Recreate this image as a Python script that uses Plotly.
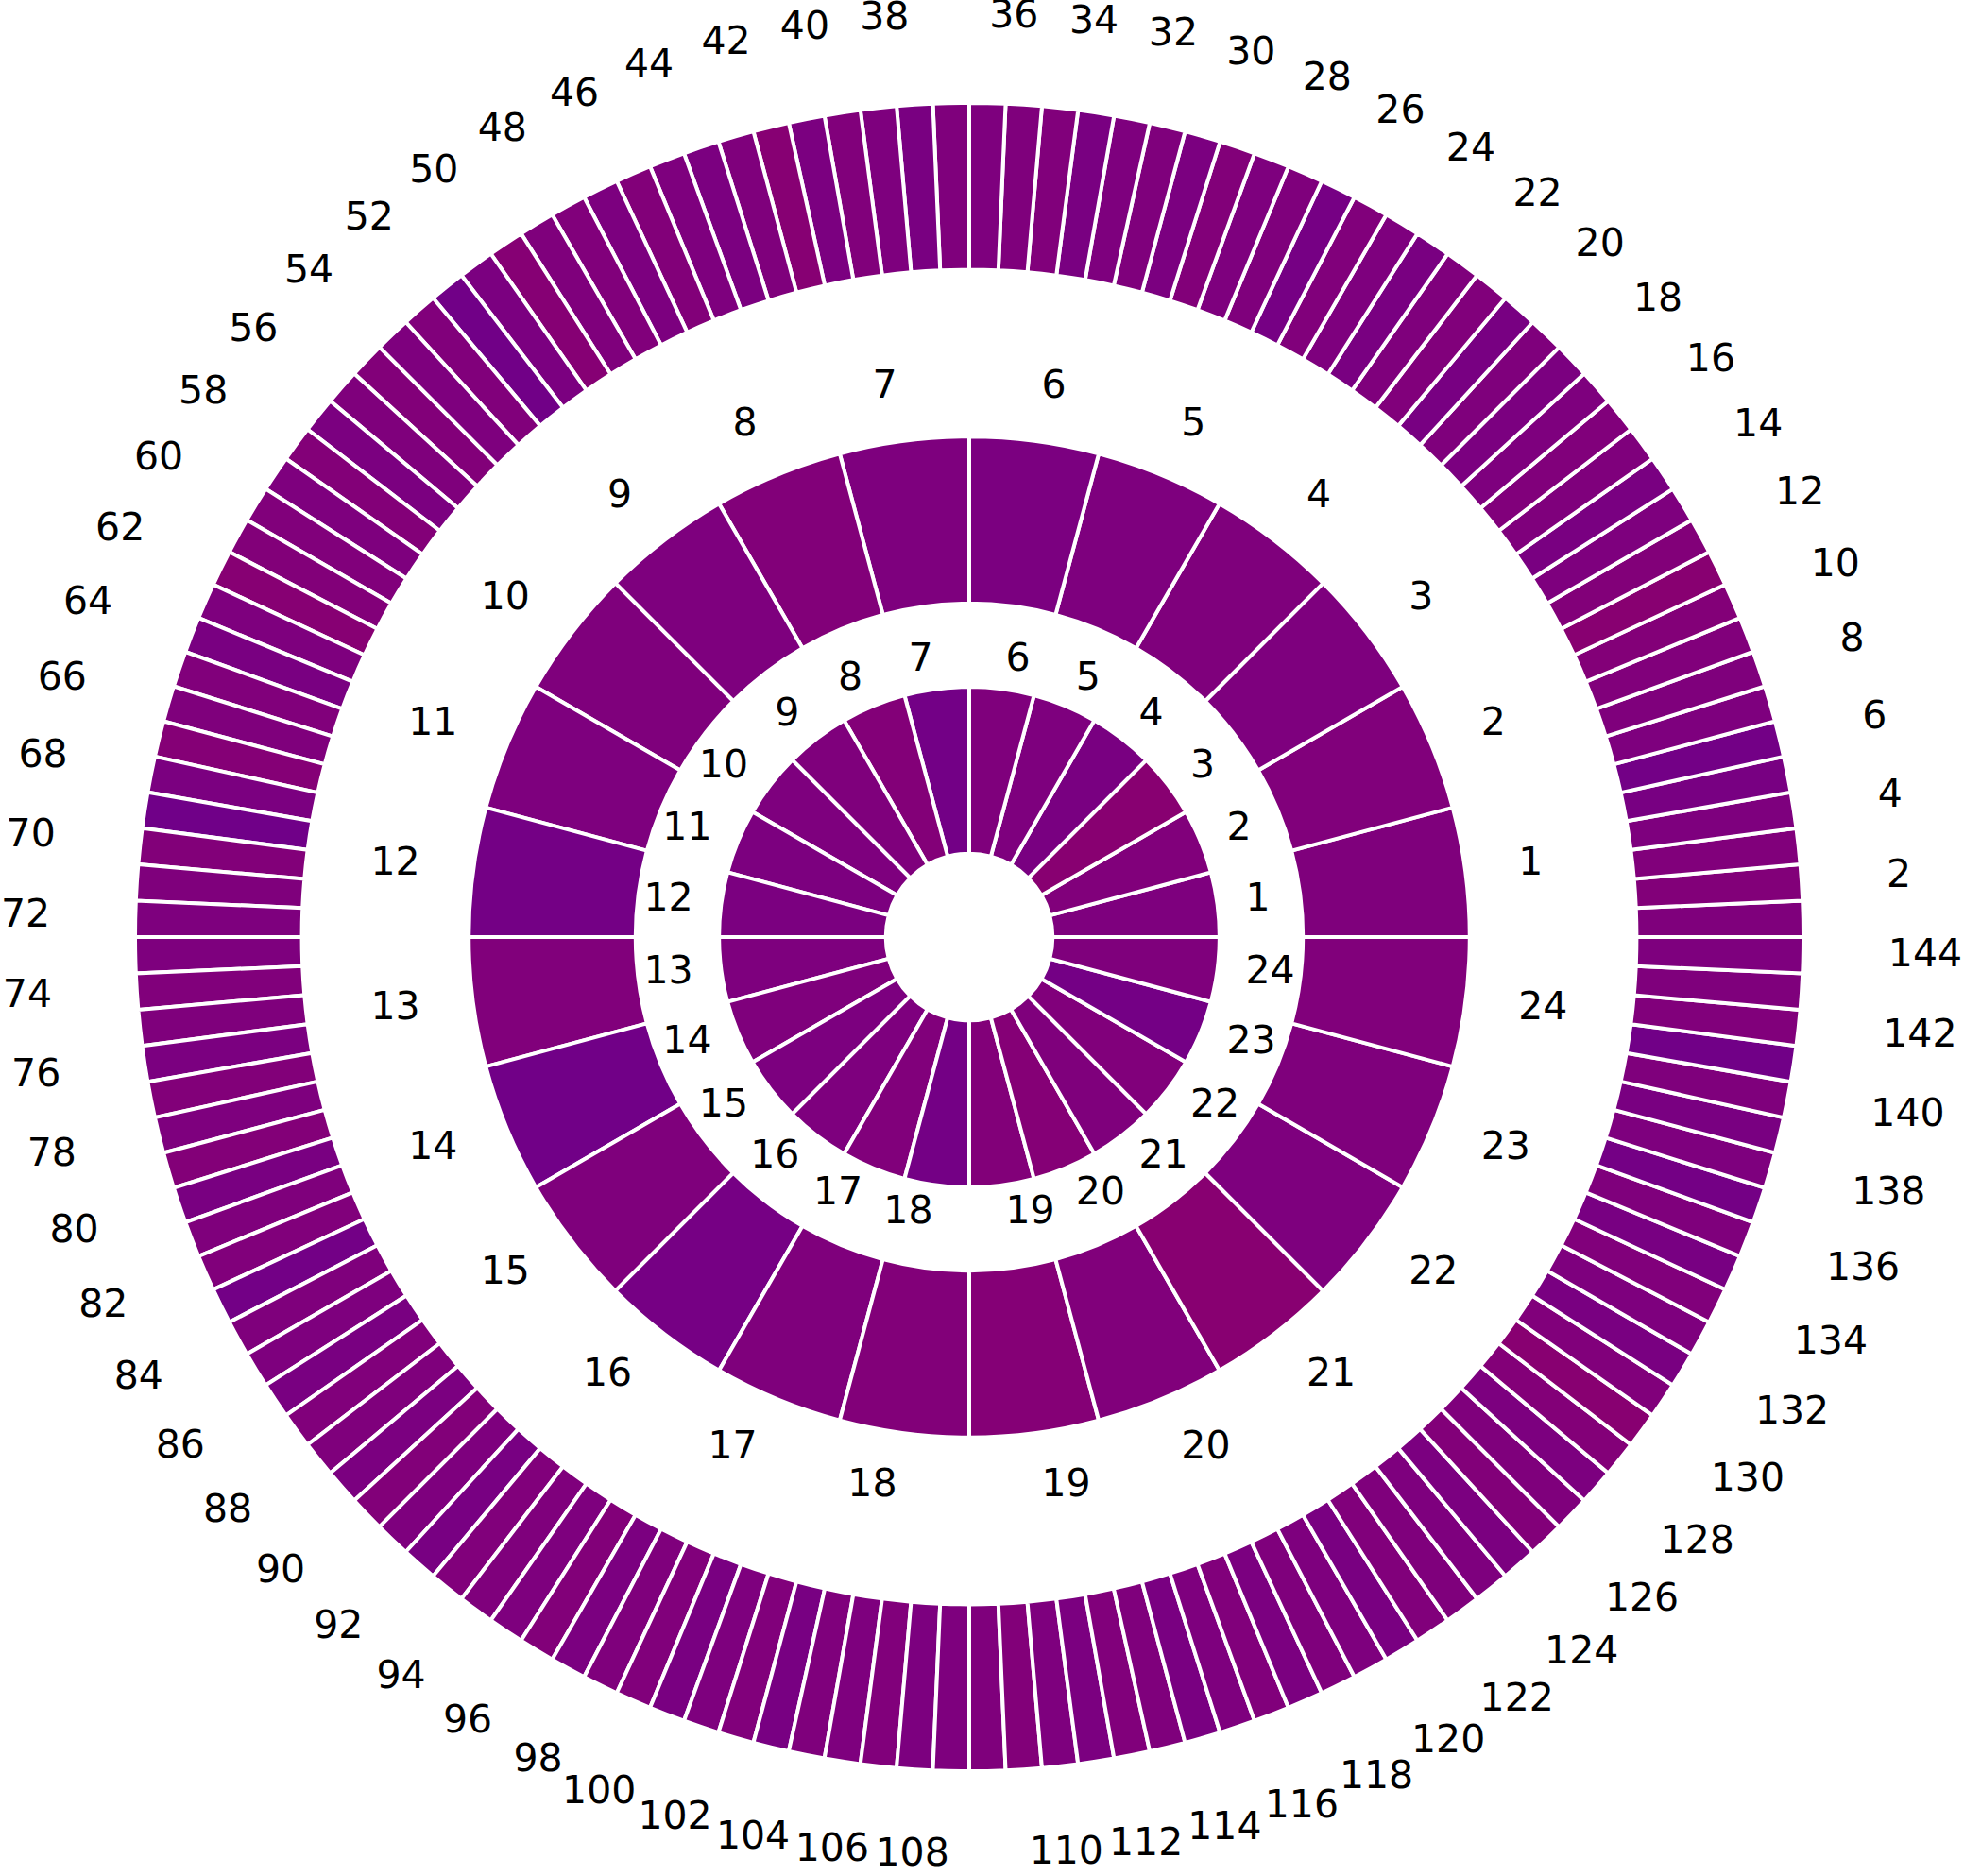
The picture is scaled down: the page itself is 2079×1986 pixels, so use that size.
import math
import plotly.graph_objects as go

# ---------------- data ----------------
inner_labels = [str(i) for i in range(1, 25)]
middle_labels = [str(i) for i in range(1, 25)]
outer_labels = [str(i) for i in range(1, 145)]

inner_values = [0.0, 0.2, 0.8, -0.3, 0.0, 0.1, -0.7, 0.4, 0.1, 0.0, -0.1, -0.2,
                0.0, 0.1, -0.1, 0.0, 0.2, -0.6, 0.3, 0.5, 0.1, 0.2, -0.6, 0.1]

middle_values = [0.1, 0.2, 0.0, 0.1, 0.0, -0.2, 0.0, 0.3, 0.0, 0.1, 0.0, -0.6,
                 0.2, -0.8, 0.1, -0.5, 0.1, 0.3, 0.5, 0.2, 0.8, 0.0, 0.1, 0.2]

outer_values = [
    0.1, 0.3, 0.2, 0.0, -0.4, -0.7, 0.0, 0.1, 0.2, 0.4, 0.8, 0.3,
    0.0, -0.3, 0.1, 0.2, 0.0, -0.2, 0.1, -0.4, 0.2, 0.1, -0.3, 0.0,
    0.2, -0.5, 0.1, 0.0, 0.3, -0.2, 0.1, 0.0, -0.3, 0.2, 0.1, 0.0,
    0.1, -0.3, 0.0, 0.2, -0.2, 0.7, 0.1, -0.2, 0.0, 0.3, -0.1, 0.2,
    0.1, 0.6, -0.2, -0.8, 0.2, 0.0, 0.3, 0.1, -0.2, 0.4, 0.0, 0.2,
    0.3, 0.7, 0.0, -0.3, 0.2, 0.1, 0.5, -0.2, -0.9, 0.3, 0.1, 0.0,
    0.0, 0.2, 0.1, -0.2, 0.3, 0.0, 0.4, -0.3, 0.1, 0.2, -0.7, 0.1,
    0.0, -0.3, 0.2, 0.1, -0.2, 0.3, 0.0, -0.4, 0.2, 0.1, 0.0, 0.3,
    -0.2, 0.1, 0.2, -0.3, 0.0, 0.2, -0.4, 0.1, 0.0, 0.2, -0.1, 0.0,
    0.1, 0.3, 0.0, -0.2, 0.2, 0.1, -0.3, 0.0, 0.2, -0.2, 0.1, 0.0,
    -0.3, 0.2, 0.1, 0.0, -0.2, 0.3, 0.1, -0.1, 0.4, 0.8, 0.2, -0.3,
    0.0, 0.2, -0.4, 0.1, -0.6, 0.0, -0.3, 0.1, -0.8, 0.2, 0.1, 0.0,
]

# ---------------- style ----------------
W, H = 2079, 1986
CX, CY = 1026, 992          # centre in pixels (from top-left)
R_PX = 883                  # outer ring radius in px
R_MAX = 1.105               # radial range (labels of outer ring sit on edge)
PLOT_R = R_PX * R_MAX

COLORSCALE = [[0.0, "#6e0089"], [0.5, "#7e007e"], [1.0, "#8b006e"]]
FONT = dict(family="DejaVu Sans", size=41, color="black")

rings = [
    # values, labels, base, top, label radius, label step
    (inner_values, inner_labels, 0.1, 0.3, 0.334, 1),
    (middle_values, middle_labels, 0.4, 0.6, 0.664, 1),
    (outer_values, outer_labels, 0.8, 1.0, 1.102, 2),
]

fig = go.Figure()
for vals, labels, r0, r1, rl, step in rings:
    n = len(vals)
    w = 360.0 / n
    theta = [w * (i + 0.5) for i in range(n)]
    fig.add_trace(go.Barpolar(
        r=[r1 - r0] * n, base=[r0] * n, theta=theta, width=[w] * n,
        marker=dict(color=vals, colorscale=COLORSCALE, cmin=-1, cmax=1,
                    line=dict(color="white", width=4)),
        hoverinfo="skip", showlegend=False,
    ))
    idx = [i for i in range(n) if (i + 1) % step == 0]
    th = [theta[i] for i in idx]
    pos = ["middle right" if math.cos(math.radians(t)) >= 0 else "middle left" for t in th]
    fig.add_trace(go.Scatterpolar(
        r=[rl] * len(idx), theta=th, text=[labels[i] for i in idx],
        mode="text", textposition=pos, textfont=FONT,
        cliponaxis=False, showlegend=False, hoverinfo="skip",
    ))

fig.update_layout(
    width=W, height=H,
    margin=dict(l=0, r=0, t=0, b=0),
    paper_bgcolor="white",
    polar=dict(
        domain=dict(x=[(CX - PLOT_R) / W, (CX + PLOT_R) / W],
                    y=[(H - CY - PLOT_R) / H, (H - CY + PLOT_R) / H]),
        bgcolor="white",
        radialaxis=dict(range=[0, R_MAX], visible=False),
        angularaxis=dict(visible=False, direction="counterclockwise", rotation=0),
        bargap=0,
    ),
)

fig.write_html("out.html")
